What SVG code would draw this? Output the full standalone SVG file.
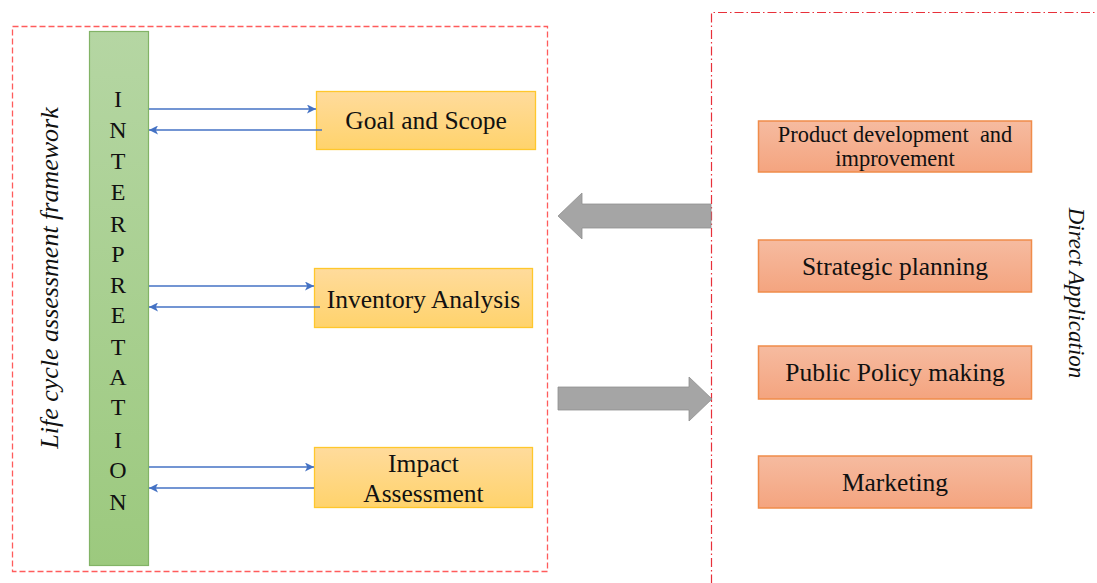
<svg xmlns="http://www.w3.org/2000/svg" width="1097" height="583" viewBox="0 0 1097 583">
  <defs>
    <linearGradient id="gGreen" x1="0" y1="0" x2="0" y2="1">
      <stop offset="0" stop-color="#b5d6a3"/>
      <stop offset="1" stop-color="#9cc97e"/>
    </linearGradient>
    <linearGradient id="gYellow" x1="0" y1="0" x2="0" y2="1">
      <stop offset="0" stop-color="#ffdb9c"/>
      <stop offset="1" stop-color="#ffd36c"/>
    </linearGradient>
    <linearGradient id="gOrange" x1="0" y1="0" x2="0" y2="1">
      <stop offset="0" stop-color="#f6bba0"/>
      <stop offset="1" stop-color="#f4a47f"/>
    </linearGradient>
    <marker id="ah" viewBox="0 0 10 10" refX="10" refY="5" markerWidth="9" markerHeight="9" markerUnits="userSpaceOnUse" orient="auto">
      <path d="M0,0 L10,5 L0,10 L2.5,5 Z" fill="#4472c4"/>
    </marker>
    <style>
      text { fill: #111; }
      .main { font-size: 25.5px; text-anchor: middle; }
      .small { font-size: 22.4px; text-anchor: middle; }
      .letter { font-size: 24px; text-anchor: middle; }
      .side { font-style: italic; text-anchor: middle; }
      .yel { fill: url(#gYellow); stroke: #ffc72c; stroke-width: 1.3; }
      .ora { fill: url(#gOrange); stroke: #f08c4a; stroke-width: 1.5; }
      .conn { stroke: #4472c4; stroke-width: 1.3; fill: none; marker-end: url(#ah); }
      .big { fill: #a5a5a5; stroke: #8f8f8f; stroke-width: 0.8; }
    </style>
  </defs>

  <rect width="1097" height="583" fill="#ffffff"/>

  <g font-family="Liberation Serif, Times New Roman, serif">
  <!-- frame boxes -->
  <g id="lca-frame">
    <rect x="12.5" y="26.5" width="535" height="545" fill="none" stroke="#ff5c5c" stroke-width="1.3" stroke-dasharray="6,3"/>
    <text class="side" font-size="26" transform="translate(58,278) rotate(-90)">Life cycle assessment framework</text>
  </g>
  <g id="direct-frame">
    <path d="M711.5,600 L711.5,12.5 L1110,12.5" fill="none" stroke="#e8303a" stroke-width="1.2" stroke-dasharray="9,3,1.5,3"/>
    <text class="side" font-size="23" transform="translate(1069,293) rotate(90)">Direct Application</text>
  </g>

  <!-- interpretation bar -->
  <g id="interpretation">
    <rect x="89.5" y="31.5" width="59" height="534" fill="url(#gGreen)" stroke="#82b366" stroke-width="1.2"/>
    <text class="letter" x="118" y="107">I</text>
    <text class="letter" x="118" y="138">N</text>
    <text class="letter" x="118" y="169">T</text>
    <text class="letter" x="118" y="200">E</text>
    <text class="letter" x="118" y="232">R</text>
    <text class="letter" x="118" y="262">P</text>
    <text class="letter" x="118" y="293">R</text>
    <text class="letter" x="118" y="323">E</text>
    <text class="letter" x="118" y="355">T</text>
    <text class="letter" x="118" y="385">A</text>
    <text class="letter" x="118" y="415">T</text>
    <text class="letter" x="118" y="448">I</text>
    <text class="letter" x="118" y="478">O</text>
    <text class="letter" x="118" y="510">N</text>
  </g>

  <!-- LCA phases -->
  <g id="goal-scope">
    <rect class="yel" x="316.5" y="91.5" width="219" height="58"/>
    <text class="main" x="426" y="129">Goal and Scope</text>
  </g>
  <g id="inventory-analysis">
    <rect class="yel" x="314.5" y="268.5" width="218" height="59"/>
    <text class="main" x="423.5" y="308">Inventory Analysis</text>
  </g>
  <g id="impact-assessment">
    <rect class="yel" x="314.5" y="447.5" width="218" height="60"/>
    <text class="main" x="423.5" y="472">Impact</text>
    <text class="main" x="423.5" y="502">Assessment</text>
  </g>

  <!-- applications -->
  <g id="product-development">
    <rect class="ora" x="758.5" y="121" width="273" height="51"/>
    <text class="small" x="895" y="142" xml:space="preserve">Product development  and</text>
    <text class="small" x="895" y="166">improvement</text>
  </g>
  <g id="strategic-planning">
    <rect class="ora" x="758.5" y="240" width="273" height="52"/>
    <text class="main" x="895" y="275">Strategic planning</text>
  </g>
  <g id="public-policy">
    <rect class="ora" x="758.5" y="346" width="273" height="53"/>
    <text class="main" x="895" y="381">Public Policy making</text>
  </g>
  <g id="marketing">
    <rect class="ora" x="758.5" y="456" width="273" height="52"/>
    <text class="main" x="895" y="491">Marketing</text>
  </g>
  </g>

  <!-- connectors -->
  <g id="connectors">
    <line class="conn" x1="149" y1="109" x2="316" y2="109"/>
    <line class="conn" x1="322" y1="130" x2="149" y2="130"/>
    <line class="conn" x1="149" y1="286" x2="314" y2="286"/>
    <line class="conn" x1="320" y1="307" x2="149" y2="307"/>
    <line class="conn" x1="149" y1="467" x2="314" y2="467"/>
    <line class="conn" x1="314" y1="488" x2="149" y2="488"/>
    <path class="big" d="M711,204 L582,204 L582,193 L558,216 L582,239 L582,228 L711,228 Z"/>
    <path class="big" d="M558,387 L689,387 L689,377 L712,399 L689,421 L689,410 L558,410 Z"/>
  </g>
</svg>
